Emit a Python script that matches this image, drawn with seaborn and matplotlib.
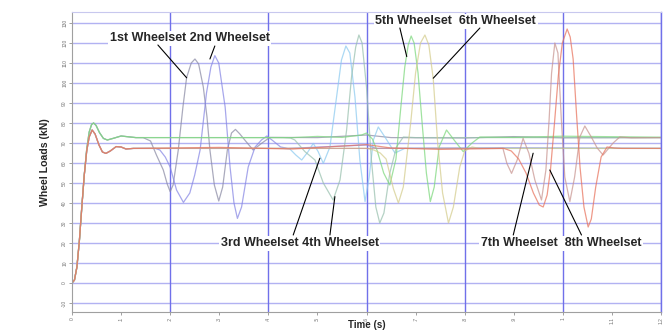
import matplotlib
matplotlib.use("Agg")
import matplotlib.pyplot as plt
import pandas as pd
import seaborn as sns

# ---- data -------------------------------------------------------------
wheelsets = ["1st Wheelset", "2nd Wheelset", "3rd Wheelset", "4th Wheelset",
             "5th Wheelset", "6th Wheelset", "7th Wheelset", "8th Wheelset"]
line_colors = ["#8a8aa4", "#8686e4", "#8ccaf0", "#98c0ae",
               "#7cd87c", "#d4cc8c", "#c89490", "#e8725c"]

# start-up transient of the two load levels (time s, load kN)
rise_upper_t = [0, .005, .01, .015, .02, .025, .03, .035, .04, .044, .049, .056, .064, .072, .085, .1, .115, .13]
rise_upper_v = [0, 1.5, 8, 21, 38, 54, 67, 75.5, 79.3, 80, 78.8, 75.2, 72.3, 71.5, 72.4, 73.5, 73.1, 72.7]
rise_lower_t = [0, .005, .01, .015, .02, .025, .03, .035, .041, .047, .055, .062, .069, .078, .09, .1, .11, .125]
rise_lower_v = [0, 1.5, 8, 21, 38, 54, 66, 73, 76.5, 74.5, 69, 65.5, 64.8, 66, 68.2, 68, 67, 67.3]

ws1_t = [0.145, 0.16, 0.172, 0.186, 0.194, 0.2, 0.206, 0.2165, 0.226, 0.2335, 0.243, 0.2505, 0.258,
         0.2675, 0.275, 0.281, 0.29, 0.299, 0.307, 0.3165, 0.325, 0.333, 0.342, 0.352, 0.369, 0.386,
         0.403, 0.5, 0.6, 0.65, 0.8, 0.9, 1.0, 1.2]
ws1_v = [72.7, 71, 64, 56.5, 49.5, 45.7, 49, 66.5, 88, 102.7, 110, 112, 109.5,
         98, 83, 66.5, 49, 41, 48, 66.5, 75, 76.8, 74.5, 71.5, 66.5, 69.8,
         72.8, 72.7, 74, 72.7, 72.5, 73.2, 72.6, 72.7]

ws2_t = [0.13, 0.17, 0.179, 0.19, 0.2, 0.213, 0.227, 0.24, 0.25, 0.261, 0.274, 0.283, 0.291, 0.299,
         0.312, 0.322, 0.33, 0.337, 0.3455, 0.359, 0.373, 0.386, 0.397, 0.41, 0.425, 0.44, 0.6, 0.62,
         0.9, 1.2]
ws2_v = [67.3, 67.3, 66.5, 63, 58, 46.5, 40.3, 45, 54, 66.5, 95, 108, 113.7, 110,
         88, 58, 40, 32.3, 38, 58, 68, 71.5, 73.5, 71, 68, 67.3, 69, 67.3,
         67.6, 67.3]

ws3_t = [0.13, 0.43, 0.444, 0.456, 0.468, 0.481, 0.4915, 0.5015, 0.512, 0.5255, 0.539, 0.549, 0.558,
         0.566, 0.5765, 0.5865, 0.597, 0.6055, 0.614, 0.624, 0.6375, 0.658, 0.678, 0.8, 1.2]
ws3_v = [67.3, 67.3, 67, 64, 61.5, 65.7, 69.8, 65.7, 59.8, 68, 93, 111.5, 118.5,
         115, 93, 61.5, 40.7, 53, 71.5, 78, 73, 65, 67.3, 67.3, 67.3]

ws4_t = [0.13, 0.43, 0.445, 0.454, 0.4745, 0.495, 0.512, 0.532, 0.546, 0.5595, 0.5695, 0.578, 0.5845,
         0.591, 0.6, 0.61, 0.619, 0.627, 0.6355, 0.6475, 0.661, 0.675, 0.7, 1.2]
ws4_v = [72.7, 72.7, 72.5, 71.5, 65.7, 61.5, 50, 41.5, 51.5, 76.5, 103, 118, 124,
         120, 98, 61.5, 38, 30, 35, 55, 68, 73, 72.7, 72.7]

ws5_t = [0.13, 0.45, 0.5, 0.55, 0.59, 0.6, 0.612, 0.622, 0.635, 0.6475, 0.66, 0.67, 0.678, 0.685,
         0.691, 0.697, 0.705, 0.714, 0.722, 0.73, 0.738, 0.748, 0.763, 0.78, 0.797, 0.815, 0.831,
         0.9, 1.0, 1.2]
ws5_v = [72.7, 72.7, 73.3, 72.8, 74, 75, 72, 66, 55, 49, 62, 88, 108, 119,
         123.5, 120, 105, 78, 55, 40.7, 48, 68, 76.5, 71, 65.7, 70, 73,
         72.8, 73.4, 72.9]

ws6_t = [0.13, 0.6, 0.615, 0.628, 0.64, 0.655, 0.665, 0.675, 0.69, 0.7, 0.71, 0.719, 0.727, 0.736,
         0.745, 0.755, 0.767, 0.777, 0.79, 0.8, 0.815, 0.83, 1.2]
ws6_v = [67.3, 67.3, 66.5, 65, 62, 47, 40, 48, 80, 105, 120, 124, 119, 102,
         70, 45, 30, 38, 58, 66, 68, 67.3, 67.3]

ws7_t = [0.13, 0.86, 0.878, 0.886, 0.8955, 0.907, 0.919, 0.931, 0.943, 0.9565, 0.9655, 0.972, 0.977,
         0.9837, 0.99, 0.997, 1.004, 1.0143, 1.024, 1.0346, 1.0448, 1.058, 1.07, 1.082, 1.1025,
         1.116, 1.14, 1.2]
ws7_v = [67.3, 67.3, 67.3, 59.8, 54.8, 61.5, 72.3, 64.8, 51.5, 41.5, 56.5, 81.5, 104.8,
         120, 115, 81.5, 53, 40.7, 53, 73, 78.5, 73, 67.5, 64, 70,
         73, 72.6, 72.7]

ws8_t = [0.13, 0.3, 0.45, 0.6, 0.65, 0.75, 0.88, 0.895, 0.91, 0.925, 0.94, 0.952, 0.96, 0.968, 0.975,
         0.983, 0.991, 0.999, 1.0088, 1.015, 1.021, 1.028, 1.035, 1.043, 1.0516, 1.058, 1.067,
         1.078, 1.09, 1.105, 1.12, 1.2]
ws8_v = [67.3, 67.8, 67.0, 69.2, 67.5, 66.8, 67.3, 66, 62, 55, 45, 39, 38, 44, 57,
         80, 104, 120, 127, 123, 112, 84, 58, 38, 28, 32, 48,
         63, 68, 67.5, 67.3, 67.3]

x_ticks = [0, .1, .2, .3, .4, .5, .6, .7, .8, .9, 1.0, 1.1, 1.2]
x_tick_labels = ["0", ".1", ".2", ".3", ".4", ".5", ".6", ".7", ".8", ".9", "1", "1.1", "1.2"]
y_ticks = list(range(-10, 131, 10))
y_tick_labels = [str(v) for v in y_ticks]

# ---- long-form table ----------------------------------------------------
series = [
    (ws1_t, ws1_v, "upper"), (ws2_t, ws2_v, "lower"), (ws3_t, ws3_v, "lower"),
    (ws4_t, ws4_v, "upper"), (ws5_t, ws5_v, "upper"), (ws6_t, ws6_v, "lower"),
    (ws7_t, ws7_v, "lower"), (ws8_t, ws8_v, "lower"),
]
rows = []
for name, (ts, vs, level) in zip(wheelsets, series):
    st, sv = (rise_upper_t, rise_upper_v) if level == "upper" else (rise_lower_t, rise_lower_v)
    for t, v in zip(list(st) + list(ts), list(sv) + list(vs)):
        rows.append({"wheelset": name, "time": t, "load": v})
df = pd.DataFrame(rows)

# ---- figure -------------------------------------------------------------
sns.set_theme(style="white")
plt.rcParams["font.family"] = ["Liberation Sans", "DejaVu Sans"]

fig = plt.figure(figsize=(6.67, 3.31), dpi=100)
ax = fig.add_axes([72 / 667, 1 - 312 / 331, 589 / 667, 300 / 331])

ax.set_xlim(0, 1.2)
ax.set_ylim(-14.5, 135.5)

# grid: lavender horizontals, stronger blue verticals every 0.2 s
for yv in y_ticks:
    ax.axhline(yv, color="#b2b2f2", lw=1.0, zorder=0)
for xv in [0.2, 0.4, 0.6, 0.8, 1.0, 1.2]:
    ax.axvline(xv, color="#7070ea", lw=1.0, zorder=0)

sns.lineplot(data=df, x="time", y="load", hue="wheelset", hue_order=wheelsets,
             palette=line_colors, estimator=None, sort=False, lw=0.9, alpha=0.72,
             legend=False, ax=ax)

ax.set_xticks(x_ticks)
ax.set_xticklabels(x_tick_labels, rotation=90, fontsize=3.5, color="#707070")
ax.set_xticks([0.05 + 0.1 * i for i in range(12)], minor=True)
ax.set_yticks(y_ticks)
ax.set_yticklabels(y_tick_labels, rotation=90, fontsize=3.5, color="#707070", va="center")
ax.tick_params(axis="both", which="both", direction="out", length=2, width=0.6,
               color="#909090", pad=1.5)
ax.tick_params(axis="x", which="minor", length=1.5)
ax.tick_params(bottom=True, left=True)

for side in ["left", "bottom"]:
    ax.spines[side].set_color("#a0a0a0")
    ax.spines[side].set_linewidth(0.8)
ax.spines["top"].set_color("#c8c8ee")
ax.spines["top"].set_linewidth(0.8)
ax.spines["right"].set_color("#7070ea")
ax.spines["right"].set_linewidth(1.0)

ax.set_xlabel("Time (s)", fontsize=7, fontweight="bold", va="top")
ax.xaxis.set_label_coords(0.5, -0.028)
ax.set_ylabel("Wheel Loads (kN)", fontsize=7.6, fontweight="bold", va="center")
ax.yaxis.set_label_coords(-0.046, 0.5)

# labels with leader lines
label_box = dict(boxstyle="square,pad=0.12", fc="white", ec="none")
label_kw = dict(fontsize=9, fontweight="bold", ha="center", va="center",
                bbox=label_box, zorder=5)
ax.text(0.240, 122.5, "1st Wheelset 2nd Wheelset", **label_kw)
ax.text(0.782, 131, "5th Wheelset  6th Wheelset", **label_kw)
ax.text(0.464, 20, "3rd Wheelset 4th Wheelset", **label_kw)
ax.text(0.996, 20, "7th Wheelset  8th Wheelset", **label_kw)

leaders = [
    ((0.175, 119.0), (0.2336, 102.6)),
    ((0.291, 118.5), (0.281, 112.0)),
    ((0.668, 127.5), (0.682, 113.2)),
    ((0.831, 127.5), (0.736, 102.4)),
    ((0.4507, 24.0), (0.505, 62.4)),
    ((0.5255, 24.0), (0.5356, 43.2)),
    ((0.899, 24.0), (0.9395, 64.9)),
    ((1.038, 24.0), (0.9735, 56.5)),
]
for (x0, y0), (x1, y1) in leaders:
    ax.plot([x0, x1], [y0, y1], color="black", lw=0.8, zorder=6)

fig.savefig("out.png", dpi=100)
